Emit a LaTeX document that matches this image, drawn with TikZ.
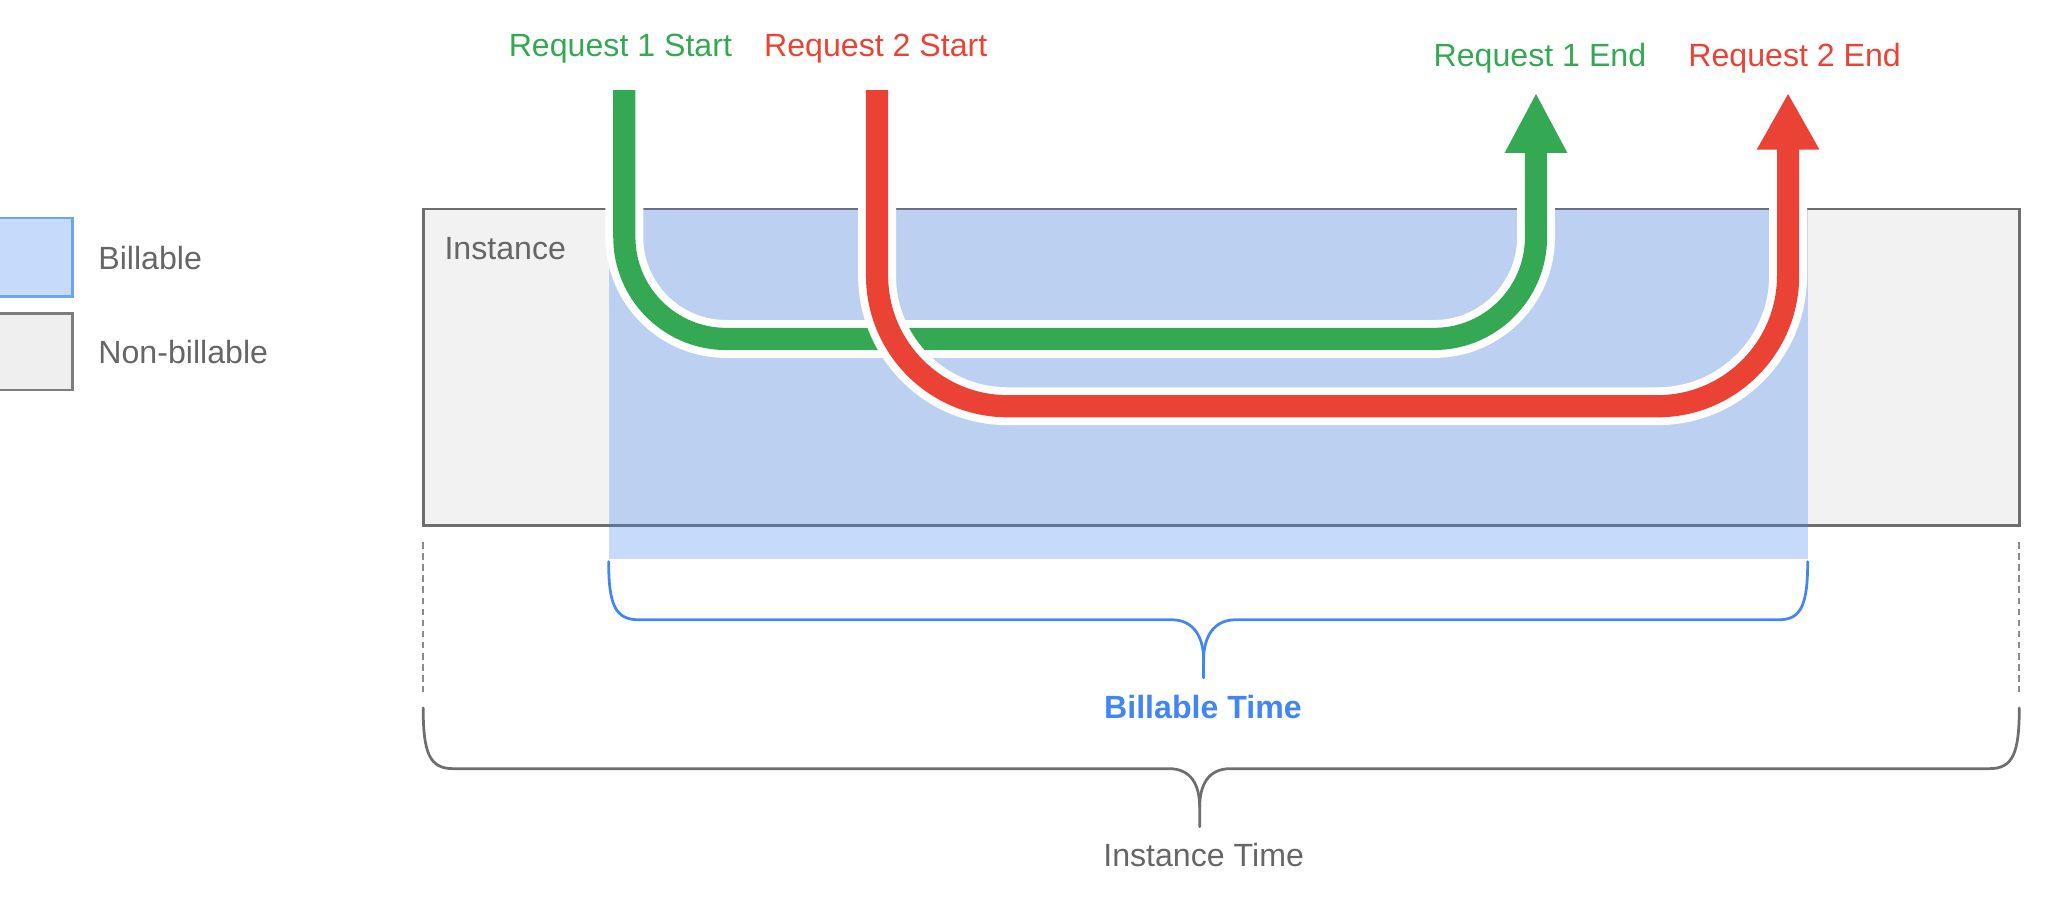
\documentclass[tikz,border=0pt]{standalone}
\usepackage{fontspec}
\setmainfont{Liberation Sans}
\definecolor{gGreen}{HTML}{34A853}
\definecolor{gRed}{HTML}{EA4335}
\definecolor{gBlue}{HTML}{4285F4}
\definecolor{legBlue}{HTML}{C6DAFC}
\definecolor{legBorder}{HTML}{6FA3F7}
\definecolor{boxGray}{HTML}{F2F2F2}
\definecolor{legGray}{HTML}{EFEFEF}
\definecolor{edgeGray}{HTML}{6E6E6E}
\definecolor{txtGray}{HTML}{666666}
\begin{document}
\begin{tikzpicture}[x=0.02cm,y=-0.02cm,
  lbl/.style={font=\fontsize{14}{16}\selectfont, inner sep=0pt},
  halo/.style={draw=white, line width=0.58cm, rounded corners=#1},
  req/.style={line width=0.34cm, rounded corners=#1},
  brace/.style={line width=0.042cm, line cap=round, line join=round},
  guide/.style={draw=edgeGray!80, line width=0.025cm, dash pattern=on 0.1cm off 0.07cm}]
\useasboundingbox (0,0) rectangle (1568,690);

% legend
\draw[draw=legBorder, fill=legBlue, line width=0.035cm] (-4,167) rectangle (55.5,227);
\node[lbl, anchor=base west, text=txtGray] (lbill) at (75,206) {Billable};
\draw[draw=edgeGray!90, fill=legGray, line width=0.035cm] (-4,240) rectangle (55.5,298.5);
\node[lbl, anchor=base west, text=txtGray] (lnon) at (75,278) {Non-billable};

% instance box
\fill[boxGray] (324,160) rectangle (1546,402);
\draw[edgeGray, line width=0.045cm] (324,160) rectangle (1546,402);
\node[lbl, anchor=base west, text=txtGray] (inst) at (340,198.5) {Instance};

% billable region
\fill[gBlue, opacity=0.3] (466,160) rectangle (1384,428);

% request labels
\node[lbl, anchor=base, text=gGreen] (r1s) at (475,43) {Request 1 Start};
\node[lbl, anchor=base, text=gRed] (r2s) at (670.5,43) {Request 2 Start};
\node[lbl, anchor=base, text=gGreen] (r1e) at (1179,51) {Request 1 End};
\node[lbl, anchor=base, text=gRed] (r2e) at (1374,51) {Request 2 End};

\coordinate (g0) at (478,69);
\coordinate (g1) at (1176,112);
\coordinate (rr0) at (671.5,69);
\coordinate (rr1) at (1369,110);

% request 1
\draw[halo=1.56cm] (g0) -- (478,259.5) -- (1176,259.5) -- (g1);
\draw[req=1.56cm, gGreen] (g0) -- (478,259.5) -- (1176,259.5) -- (g1);
\fill[gGreen] (1152,117) -- (1200,117) -- (1176,72) -- cycle;

% request 2
\draw[halo=2cm] (rr0) -- (671.5,311) -- (1369,311) -- (rr1);
\draw[req=2cm, gRed] (rr0) -- (671.5,311) -- (1369,311) -- (rr1);
\fill[gRed] (1345,114.5) -- (1393,114.5) -- (1369,72) -- cycle;

% dashed guides
\draw[guide] (324,415) -- (324,530);
\draw[guide] (1546,415) -- (1546,530);

% billable time brace
\draw[brace, gBlue] (466,430) .. controls (466,463) and (471,474.5) .. (489,474.5)
  -- (897,474.5) .. controls (914,474.5) and (921.5,488) .. (921.5,505) -- (921.5,519);
\draw[brace, gBlue] (921.5,505) .. controls (921.5,488) and (929,474.5) .. (946,474.5)
  -- (1362,474.5) .. controls (1379,474.5) and (1384,463) .. (1384,430);
\node[lbl, anchor=base, text=gBlue, font=\fontsize{14}{16}\selectfont\bfseries] (bt) at (921,550) {Billable Time};

% instance time brace
\draw[brace, edgeGray] (324,542) .. controls (324,577) and (329,588.5) .. (347,588.5)
  -- (895,588.5) .. controls (912,588.5) and (918.5,601) .. (918.5,618) -- (918.5,633);
\draw[brace, edgeGray] (918.5,618) .. controls (918.5,601) and (925,588.5) .. (942,588.5)
  -- (1523,588.5) .. controls (1541,588.5) and (1546,577) .. (1546,542);
\node[lbl, anchor=base, text=txtGray] (it) at (921.5,663.5) {Instance Time};
\end{tikzpicture}
\end{document}
